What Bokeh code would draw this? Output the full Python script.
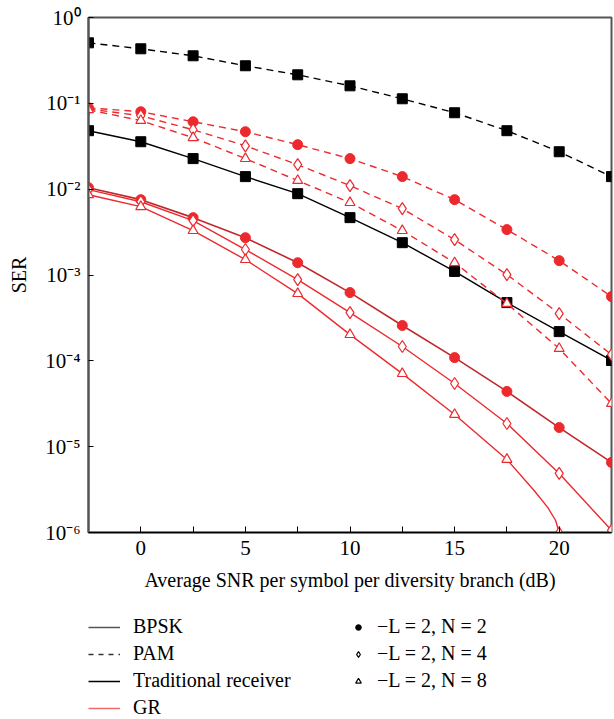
from bokeh.plotting import figure
from bokeh.layouts import column
from bokeh.models import FixedTicker, Legend, LegendItem, Range1d
from bokeh.embed import file_html
from bokeh.resources import INLINE

# ---------------- data ----------------
snr = [-2.5, 0, 2.5, 5, 7.5, 10, 12.5, 15, 17.5, 20, 22.5]

pam_trad = [0.507, 0.432, 0.358, 0.274, 0.215, 0.160, 0.113, 0.0777, 0.048, 0.0273, 0.014]
bpsk_trad = [0.048, 0.0357, 0.0227, 0.014, 0.00886, 0.00466, 0.00238, 0.0011, 4.77e-4, 2.19e-4, 1.01e-4]

pam_gr_n2 = [0.0887, 0.0798, 0.061, 0.0467, 0.033, 0.0227, 0.014, 0.00755, 0.00338, 0.00147, 5.6e-4]
pam_gr_n4 = [0.086, 0.0716, 0.0492, 0.032, 0.0193, 0.011, 0.00593, 0.00258, 0.00101, 3.55e-4, 1.18e-4]
pam_gr_n8 = [0.084, 0.063, 0.0398, 0.0227, 0.0126, 0.00697, 0.00329, 0.00139, 4.65e-4, 1.39e-4, 3.18e-5]

bpsk_gr_n2 = [0.0104, 0.00755, 0.00466, 0.00272, 0.00139, 6.24e-4, 2.58e-4, 1.09e-4, 4.4e-5, 1.67e-5, 6.55e-6]
bpsk_gr_n4 = [0.00986, 0.00714, 0.0043, 0.00198, 8.84e-4, 3.65e-4, 1.47e-4, 5.44e-5, 1.86e-5, 4.88e-6, 1.06e-6]
snr_n8 = [-2.5, 0, 2.5, 5, 7.5, 10, 12.5, 15, 17.5, 20]
bpsk_gr_n8 = [0.00862, 0.00625, 0.00329, 0.00151, 6.07e-4, 2.02e-4, 7.1e-5, 2.37e-5, 7.1e-6, 1.0e-6]
# the drawn N=8 BPSK curve near its end (extra points)
snr_n8_curve = [-2.5, 0, 2.5, 5, 7.5, 10, 12.5, 15, 17.5, 18.8, 19.45, 19.83, 20.0]
bpsk_gr_n8_curve = [0.00862, 0.00625, 0.00329, 0.00151, 6.07e-4, 2.02e-4, 7.1e-5, 2.37e-5, 7.1e-6,
                    3.09e-6, 1.96e-6, 1.38e-6, 1.0e-6]

x_ticks = [0, 5, 10, 15, 20]
x_minor_ticks = [2.5, 7.5, 12.5, 17.5]
y_ticks = [1e-6, 1e-5, 1e-4, 1e-3, 1e-2, 1e-1, 1.0]
y_tick_labels = ["10\u207b\u2076", "10\u207b\u2075", "10\u207b\u2074", "10\u207b\u00b3",
                 "10\u207b\u00b2", "10\u207b\u00b9", "10\u2070"]

legend_left = ["BPSK", "PAM", "Traditional receiver", "GR"]
legend_right = ["\u2212L = 2, N = 2", "\u2212L = 2, N = 4", "\u2212L = 2, N = 8"]

# placeholder data for legend-only renderers (lies outside the legend panel's ranges)
dummy_x = [-1000, -999]
dummy_y = [-1000, -1000]

# ---------------- styles ----------------
FONT = "Liberation Serif"
RED = "#ec2a2e"
DARKRED = "#c0282c"

p = figure(width=614, height=600, y_axis_type="log",
           x_range=(-2.5, 22.5), y_range=(1e-6, 1.0),
           output_backend="svg", toolbar_location=None,
           min_border_left=88, min_border_right=3, min_border_top=17, min_border_bottom=68)

p.xgrid.visible = False
p.ygrid.visible = False
p.outline_line_color = "#555555"
p.outline_line_width = 2

# x axis
p.xaxis.ticker = FixedTicker(ticks=x_ticks, minor_ticks=x_minor_ticks)
p.xaxis.axis_label = "Average SNR per symbol per diversity branch (dB)"
p.xaxis.axis_line_color = "black"
p.xaxis.axis_line_width = 1.5
p.xaxis.major_tick_in = 6
p.xaxis.major_tick_out = 0
p.xaxis.minor_tick_in = 6
p.xaxis.minor_tick_out = 0
p.xaxis.major_tick_line_color = "black"
p.xaxis.minor_tick_line_color = "black"
p.xaxis.major_label_standoff = 8
p.xaxis.axis_label_standoff = 11

# y axis
p.yaxis.ticker = FixedTicker(ticks=y_ticks, minor_ticks=[])
p.yaxis.major_label_overrides = {t: lab for t, lab in zip(y_ticks, y_tick_labels)}
p.yaxis.axis_label = "SER"
p.yaxis.axis_line_color = "#555555"
p.yaxis.axis_line_width = 2
p.yaxis.major_tick_in = 5
p.yaxis.major_tick_out = 0
p.yaxis.minor_tick_in = 0
p.yaxis.minor_tick_out = 0
p.yaxis.major_tick_line_color = "black"
p.yaxis.major_label_standoff = 8
p.yaxis.axis_label_standoff = 12

for ax in (p.xaxis, p.yaxis):
    ax.major_label_text_font = FONT
    ax.major_label_text_font_size = "21px"
    ax.major_label_text_color = "black"
    ax.axis_label_text_font = FONT
    ax.axis_label_text_font_size = "20px"
    ax.axis_label_text_font_style = "normal"
    ax.axis_label_text_color = "black"

# ---------------- curves ----------------
p.line(snr, pam_trad, line_color="black", line_width=1.4, line_dash="7 5")
p.scatter(snr, pam_trad, marker="square", size=10, fill_color="black", line_color="black")
p.line(snr, bpsk_trad, line_color="black", line_width=1.4)
p.scatter(snr, bpsk_trad, marker="square", size=10, fill_color="black", line_color="black")

p.line(snr, pam_gr_n2, line_color=RED, line_width=1.4, line_dash="7 5")
p.line(snr, pam_gr_n4, line_color=RED, line_width=1.4, line_dash="7 5")
p.line(snr, pam_gr_n8, line_color=RED, line_width=1.4, line_dash="7 5")
p.scatter(snr, pam_gr_n2, marker="circle", size=10, fill_color=RED, line_color=RED)
p.scatter(snr, pam_gr_n4, marker="diamond", size=12, fill_color="white", line_color=RED, line_width=1.2)
p.scatter(snr, pam_gr_n8, marker="triangle", size=10, fill_color="white", line_color=RED, line_width=1.2)

p.line(snr, bpsk_gr_n2, line_color=DARKRED, line_width=1.6)
p.line(snr, bpsk_gr_n4, line_color=RED, line_width=1.4)
p.line(snr_n8_curve, bpsk_gr_n8_curve, line_color=RED, line_width=1.4)
p.scatter(snr, bpsk_gr_n2, marker="circle", size=10, fill_color=RED, line_color=RED)
p.scatter(snr, bpsk_gr_n4, marker="diamond", size=12, fill_color="white", line_color=RED, line_width=1.2)
p.scatter(snr_n8, bpsk_gr_n8, marker="triangle", size=10, fill_color="white", line_color=RED, line_width=1.2)

# ---------------- legend panel (separate figure below the plot) ----------------
lg = figure(width=614, height=119, x_range=Range1d(0, 526), y_range=Range1d(0, 119),
            output_backend="svg", toolbar_location=None,
            min_border_left=88, min_border_right=3, min_border_top=0, min_border_bottom=0)
lg.axis.visible = False
lg.xgrid.visible = False
lg.ygrid.visible = False
lg.outline_line_color = None

r_bpsk = lg.line(dummy_x, dummy_y, line_color="#555555", line_width=1.4)
r_pam = lg.line(dummy_x, dummy_y, line_color="#333333", line_width=1.4, line_dash="5 5")
r_trad = lg.line(dummy_x, dummy_y, line_color="black", line_width=1.4)
r_gr = lg.line(dummy_x, dummy_y, line_color="#f26b6b", line_width=1.6)
r_n2 = lg.scatter(dummy_x, dummy_y, marker="circle", size=8, fill_color="black", line_color="black")
r_n4 = lg.scatter(dummy_x, dummy_y, marker="diamond", size=10, fill_color="white", line_color="black", line_width=1.2)
r_n8 = lg.scatter(dummy_x, dummy_y, marker="triangle", size=8, fill_color="white", line_color="black", line_width=1.2)

common = dict(orientation="vertical", padding=0, margin=0, spacing=4,
              label_height=20, glyph_height=20, border_line_color=None,
              background_fill_alpha=0, label_text_font=FONT,
              label_text_font_size="20px", label_text_color="black")

leg1 = Legend(items=[LegendItem(label=l, renderers=[r]) for l, r in
                     zip(legend_left, [r_bpsk, r_pam, r_trad, r_gr])],
              location=(0, 0), glyph_width=32, label_standoff=13, **common)
leg2 = Legend(items=[LegendItem(label=l, renderers=[r]) for l, r in
                     zip(legend_right, [r_n2, r_n4, r_n8])],
              location=(263, 27), glyph_width=14, label_standoff=12, **common)
lg.add_layout(leg1)
lg.add_layout(leg2)

layout = column(p, lg, spacing=0)
open("out.html", "w").write(file_html(layout, INLINE))
